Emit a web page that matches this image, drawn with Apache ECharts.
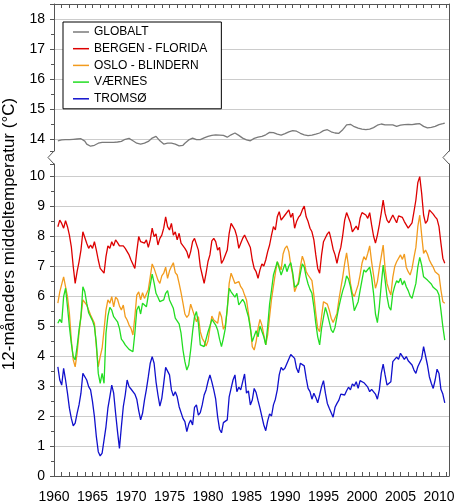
<!DOCTYPE html>
<html><head><meta charset="utf-8">
<script src="https://cdn.jsdelivr.net/npm/echarts@6/dist/echarts.min.js"></script>
<style>html,body{margin:0;padding:0;background:#fff}#c{width:462px;height:504px}</style>
</head><body><div id="c"></div>
<script>
// 12-month running means, quarterly samples
const START_YEAR = 1960.5;
const STEP = 0.25;
const seriesNames = ['GLOBALT', 'BERGEN - FLORIDA', 'OSLO - BLINDERN', 'VÆRNES', 'TROMSØ'];
const seriesColors = ['#7a7a7a', '#dd0000', '#f29b1d', '#22dd22', '#1010cc'];
const yAxisTitle = '12-måneders middeltemperatur (°C)';
const xRange = [1960, 2011.3];
const upperRange = [13.6, 18.5];   // part of the y axis above the break
const lowerRange = [0, 10.4];      // part of the y axis below the break

const globalt = [
13.94, 13.96,
13.97, 13.98, 13.98, 13.98,  13.98, 13.99, 13.99, 14.0,   14.0, 14.01, 14.01, 13.99,  13.93, 13.83, 13.77, 13.76,
13.76, 13.79, 13.83, 13.86,  13.88, 13.89, 13.88, 13.89,  13.89, 13.89, 13.9, 13.89,   13.9, 13.9, 13.91, 13.92,
13.94, 13.99, 14.02, 14.02,  13.99, 13.94, 13.9, 13.86,   13.83, 13.83, 13.83, 13.86,  13.9, 13.92, 13.98, 14.03,
14.07, 14.09, 14.03, 13.94,  13.88, 13.83, 13.81, 13.86,  13.87, 13.86, 13.86, 13.83,  13.81, 13.77, 13.76, 13.79,
13.86, 13.9, 13.97, 14.02,   14.03, 14.0, 13.98, 13.97,   13.98, 14.01, 14.04, 14.07,  14.09, 14.11, 14.12, 14.13,
14.14, 14.14, 14.13, 14.12,  14.12, 14.09, 14.06, 14.09,  14.14, 14.18, 14.2, 14.17,   14.12, 14.08, 14.03, 13.99,
13.97, 13.96, 13.94, 13.99,  14.02, 14.04, 14.06, 14.07,  14.09, 14.11, 14.14, 14.18,  14.22, 14.22, 14.21, 14.19,
14.16, 14.13, 14.13, 14.16,  14.18, 14.21, 14.24, 14.27,  14.28, 14.28, 14.26, 14.22,  14.19, 14.17, 14.14, 14.12,
14.11, 14.11, 14.13, 14.14,  14.16, 14.18, 14.2, 14.24,   14.28, 14.31, 14.31, 14.28,  14.24, 14.22, 14.2, 14.18,
14.19, 14.24, 14.31, 14.39,  14.47, 14.5, 14.49, 14.46,   14.41, 14.38, 14.36, 14.34,  14.33, 14.32, 14.31, 14.32,
14.33, 14.34, 14.38, 14.42,  14.46, 14.48, 14.5, 14.49,   14.47, 14.46, 14.47, 14.48,  14.47, 14.44, 14.42, 14.43,
14.46, 14.47, 14.48, 14.5,   14.49, 14.47, 14.48, 14.49,  14.5, 14.51, 14.51, 14.48,   14.42, 14.38, 14.37, 14.38,
14.39, 14.4, 14.42, 14.46,   14.48, 14.5, 14.51, 14.53
];

const bergen = [
8.31, 8.53,
8.42, 8.26, 8.51, 8.31,  8.03, 7.64, 6.98, 6.42,  6.81, 7.14, 7.53, 8.14,  8.14, 7.76, 7.59, 7.7,
7.59, 7.81, 7.53, 7.2,   6.92, 6.87, 6.76, 7.31,  7.67, 7.59, 7.81, 7.67,  7.87, 7.78, 7.67, 7.7,
7.67, 7.59, 7.48, 7.37,  7.2, 7.14, 6.92, 7.48,   7.98, 7.81, 7.87, 7.76,  7.87, 7.62, 7.87, 8.26,
7.98, 8.07, 7.7, 7.92,   8.03, 8.26, 8.64, 8.31,  8.2, 8.42, 8.03, 8.14,   7.87, 8.09, 7.76, 7.7,
7.59, 7.48, 7.26, 7.48,  7.81, 7.92, 7.87, 7.53,  6.98, 6.7, 6.42, 6.76,   7.15, 7.37, 7.84, 7.92,
7.81, 7.53, 7.62, 7.09,  7.2, 7.37, 7.53, 8.09,   8.42, 8.31, 8.2, 7.98,   7.59, 7.76, 7.92, 8.03,
7.89, 7.76, 7.62, 7.2,   6.92, 6.81, 6.59, 6.87,  7.07, 7.0, 7.2, 7.48,    7.7, 8.03, 8.31, 8.2,
8.64, 8.81, 8.53, 8.48,  8.7, 8.7, 8.87, 8.62,    8.76, 8.26, 8.48, 8.62,  8.7, 8.87, 9.0, 8.64,
8.48, 8.26, 8.14, 7.87,  7.37, 6.92, 6.76, 7.37,  7.81, 7.94, 8.07, 8.14,  7.87, 7.56, 7.37, 7.09,
7.4, 7.62, 8.03, 8.53,   8.78, 8.78, 8.44, 8.14,  8.14, 8.33, 8.2, 8.59,   8.78, 8.81, 8.7, 8.59,
8.78, 8.37, 8.0, 7.76,   8.03, 8.37, 8.76, 9.2,   8.76, 8.53, 8.44, 8.48,  8.7, 8.64, 8.44, 8.67,
8.73, 8.62, 8.48, 8.51,  8.26, 8.31, 8.44, 8.81,  9.2, 9.78, 9.98, 9.42,   8.7, 8.42, 8.51, 8.87,
8.81, 8.73, 8.64, 8.56,  8.31, 7.76, 7.26, 7.09
];

const oslo = [
5.76, 6.14,
6.14, 6.64, 6.7, 5.98,   5.42, 4.53, 3.87, 3.64,  4.09, 4.76, 5.31, 5.87,  5.92, 5.7, 5.53, 5.37,
5.42, 5.09, 4.31, 3.64,  3.98, 4.26, 4.87, 5.53,  5.87, 5.76, 5.98, 5.64,  5.96, 5.89, 5.67, 5.53,
5.7, 5.31, 5.2, 5.03,    4.92, 4.7, 5.31, 6.03,   6.14, 5.87, 6.11, 5.92,  5.98, 6.22, 6.64, 7.07,
6.92, 6.96, 6.53, 6.42,  6.67, 6.76, 6.96, 6.59,  6.84, 6.98, 7.11, 6.78,  6.7, 6.42, 6.11, 5.76,
5.4, 5.29, 5.37, 5.73,   5.7, 5.33, 5.14, 5.31,   4.81, 4.59, 4.48, 4.33,  4.5, 4.92, 5.33, 5.2,
5.22, 5.09, 5.48, 5.31,  4.89, 5.03, 5.53, 6.42,  6.76, 6.59, 6.42, 6.4,   6.48, 6.31, 6.22, 6.03,
5.87, 5.42, 4.98, 4.31,  4.2, 4.48, 4.92, 5.22,   5.03, 4.7, 4.37, 4.7,    5.31, 5.89, 6.33, 6.76,
7.14, 7.0, 6.87, 7.4,    7.59, 7.67, 7.48, 7.03,  6.7, 6.14, 6.09, 6.48,   6.98, 7.33, 7.14, 6.81,
6.7, 6.64, 6.51, 6.03,   5.42, 4.92, 4.81, 5.31,  5.81, 5.87, 5.73, 5.53,  5.26, 5.12, 5.18, 5.42,
5.87, 6.26, 6.64, 7.09,  7.44, 6.98, 6.42, 6.09,  5.98, 6.03, 6.37, 6.7,   7.09, 7.31, 7.2, 7.42,
7.67, 7.14, 6.7, 6.26,   6.48, 6.92, 7.31, 7.7,   6.92, 6.42, 6.2, 6.03,   6.62, 6.98, 7.14, 7.2,
7.37, 7.22, 7.4, 6.96,   6.81, 6.7, 6.92, 7.29,   7.62, 8.31, 8.7, 8.03,   7.42, 7.53, 7.4, 7.2,
7.07, 6.96, 6.81, 6.78,  6.7, 6.2, 5.81, 5.76
];

const vaernes = [
5.09, 5.22,
5.11, 5.98, 6.26, 5.64,  4.98, 4.42, 3.98, 3.87,  4.31, 4.87, 5.31, 6.31,  6.14, 5.76, 5.44, 5.31,
5.18, 4.98, 4.42, 3.42,  3.09, 3.42, 3.09, 4.76,  5.33, 5.62, 5.53, 5.31,  5.29, 5.14, 4.92, 4.56,
4.48, 4.37, 4.31, 4.22,  4.25, 4.14, 4.76, 5.53,  5.67, 5.4, 5.76, 5.81,   5.64, 6.03, 6.37, 6.73,
6.44, 6.09, 5.96, 5.81,  5.87, 5.87, 6.09, 6.18,  5.87, 5.81, 5.59, 5.26,  5.31, 5.07, 4.76, 4.2,
3.81, 3.53, 3.7, 4.2,    4.81, 5.31, 5.48, 5.09,  4.37, 4.42, 4.31, 4.56,  4.8, 5.0, 5.22, 5.26,
5.03, 4.87, 4.56, 4.31,  4.59, 4.92, 5.59, 6.26,  6.14, 6.2, 5.96, 6.09,   5.7, 5.7, 5.89, 5.78,
5.53, 5.31, 4.92, 4.48,  4.42, 4.84, 4.64, 5.0,   5.03, 4.64, 4.37, 4.98,  5.73, 6.2, 6.7, 6.92,
7.14, 6.92, 6.7, 6.76,   7.07, 6.81, 7.0, 7.11,   6.78, 6.29, 6.26, 6.4,   6.76, 7.07, 6.96, 6.64,
6.4, 6.22, 6.09, 5.64,   5.09, 4.64, 4.37, 4.92,  5.29, 5.62, 5.4, 5.14,   4.87, 4.78, 4.96, 5.31,
5.64, 5.92, 6.18, 6.37,  6.67, 6.56, 6.31, 5.96,  5.51, 5.48, 5.81, 6.18,  6.53, 6.87, 6.8, 6.84,
6.96, 6.62, 6.09, 5.4,   5.11, 5.64, 6.37, 7.03,  6.53, 5.98, 5.64, 5.53,  6.09, 6.33, 6.51, 6.44,
6.59, 6.37, 6.51, 6.31,  6.18, 6.0, 5.92, 6.18,   6.42, 6.96, 7.29, 7.03,  6.64, 6.64, 6.53, 6.48,
6.4, 6.29, 6.29, 6.18,   6.03, 5.53, 4.98, 4.53
];

const tromso = [
3.64, 3.2,
3.03, 3.59, 3.2, 2.76,   2.26, 1.92, 1.67, 1.76,  2.09, 2.37, 2.76, 3.42,  3.48, 3.2, 2.98, 2.87,
2.48, 1.98, 1.31, 0.81,  0.67, 0.76, 0.76, 1.64,  2.26, 2.64, 3.03, 2.76,  2.09, 1.48, 0.92, 1.64,
2.31, 2.7, 3.2, 2.98,    2.9, 2.84, 2.73, 2.56,   2.18, 1.87, 2.09, 2.53,  2.89, 3.31, 3.76, 3.98,
3.76, 3.14, 2.7, 2.33,   2.59, 3.09, 3.62, 3.64,  3.37, 2.87, 2.67, 2.81,  2.64, 2.31, 2.37, 1.92,
1.81, 1.48, 1.73, 1.87,  1.7, 2.29, 2.37, 2.03,   2.11, 2.37, 2.7, 2.87,   3.15, 3.37, 3.14, 2.87,
2.56, 1.98, 1.56, 1.44,  1.78, 1.81, 1.87, 2.64,  2.92, 3.2, 3.37, 2.81,   2.96, 2.87, 3.14, 3.4,
2.76, 2.84, 2.37, 2.53,  2.92, 2.78, 2.51, 2.26,  1.98, 1.7, 1.51, 1.84,   2.07, 2.0, 2.37, 2.56,
2.87, 3.37, 3.62, 3.53,  3.6, 3.75, 3.9, 4.05,    4.11, 3.92, 3.59, 3.44,  3.76, 3.78, 3.67, 3.26,
2.92, 2.81, 2.56, 2.76,  2.62, 2.44, 2.7, 2.98,   3.18, 2.76, 2.42, 2.26,  2.11, 1.96, 2.29, 2.42,
2.53, 2.73, 2.78, 2.7,   2.84, 2.96, 2.87, 3.07,  3.0, 3.14, 2.92, 3.18,   3.14, 3.11, 3.1, 2.96,
2.81, 2.89, 2.92, 2.73,  2.56, 2.87, 3.42, 3.73,  3.37, 3.03, 3.0, 3.14,   3.81, 3.78, 3.96, 3.89,
4.09, 4.14, 3.89, 3.98,  3.84, 3.78, 3.7, 3.53,   3.42, 3.64, 3.7, 3.92,   4.31, 4.26, 3.7, 3.31,
3.09, 2.92, 3.2, 3.56,   3.42, 2.89, 2.73, 2.44
];

const allSeries = [globalt, bergen, oslo, vaernes, tromso];
const toPairs = arr => arr.map((v, i) => [START_YEAR + i * STEP, v]);

const FONT = 'Liberation Sans, Arial, sans-serif';
const AX = '#555555';
const intLabel = v => (Math.abs(v - Math.round(v)) < 1e-6 ? String(Math.round(v)) : '');

const chart = echarts.init(document.getElementById('c'), null, {renderer: 'canvas'});

const xBase = (gridIndex, position, showLabel) => ({
  type: 'value', gridIndex, position, min: xRange[0], max: xRange[1], interval: 5,
  axisLine: {show: true, onZero: false, lineStyle: {color: AX, width: 1}},
  axisTick: {show: true, inside: true, length: 4, lineStyle: {color: AX}},
  minorTick: {show: true, splitNumber: 5, length: 4, lineStyle: {color: AX}},
  splitLine: {show: false},
  axisLabel: showLabel ? {fontSize: 14, color: '#000', margin: 14, fontFamily: FONT,
      formatter: v => (Math.abs(v % 5) < 1e-6 ? String(Math.round(v)) : '')} : {show: false}
});
const yMain = (gridIndex, range, extra) => Object.assign({
  type: 'value', gridIndex, position: 'left', min: range[0], max: range[1],
  axisLine: {show: true, onZero: false, lineStyle: {color: AX, width: 1}},
  axisTick: {show: true, length: 4, lineStyle: {color: AX}},
  minorTick: {show: true, splitNumber: 2, length: 3, lineStyle: {color: AX}},
  splitLine: {show: true, showMinLine: false, showMaxLine: false, lineStyle: {color: '#cccccc', width: 1}},
  axisLabel: {fontSize: 14, color: '#000', margin: 9, fontFamily: FONT, formatter: intLabel,
              showMinLabel: true, showMaxLabel: true}
}, extra);
const yRight = (gridIndex, range) => ({
  type: 'value', gridIndex, position: 'right', min: range[0], max: range[1],
  axisLine: {show: true, onZero: false, lineStyle: {color: AX, width: 1}},
  axisTick: {show: false}, axisLabel: {show: false}, splitLine: {show: false}
});

chart.setOption({
  animation: false,
  backgroundColor: '#ffffff',
  textStyle: {fontFamily: FONT},
  grid: [
    {left: 54, right: 13, top: 4, bottom: 353, outerBoundsMode: 'none', containLabel: false},
    {left: 54, right: 13, top: 164, bottom: 28, outerBoundsMode: 'none', containLabel: false}
  ],
  legend: {
    orient: 'vertical', left: 63, top: 22,
    padding: [4, 14, 4, 10],
    backgroundColor: '#ffffff', borderColor: '#000000', borderWidth: 1,
    icon: 'rect', itemWidth: 16, itemHeight: 1.5, itemGap: 4.7,
    textStyle: {fontSize: 12, color: '#000', fontFamily: FONT, lineHeight: 12},
    data: seriesNames
  },
  xAxis: [xBase(0, 'top', false), xBase(1, 'bottom', true)],
  yAxis: [
    yMain(0, upperRange, {minInterval: 1, maxInterval: 1}),
    yRight(0, upperRange),
    yMain(1, lowerRange, {interval: 1}),
    yRight(1, lowerRange)
  ],
  series: allSeries.map((arr, k) => ({
    name: seriesNames[k], type: 'line', data: toPairs(arr),
    xAxisIndex: k === 0 ? 0 : 1, yAxisIndex: k === 0 ? 0 : 2,
    symbol: 'none', showSymbol: false, clip: true,
    lineStyle: {color: seriesColors[k], width: 1.3},
    itemStyle: {color: seriesColors[k]},
    z: 2 + k
  }))
});

// axis-break notches on the frame and the rotated y-axis title
const xl = chart.convertToPixel({xAxisIndex: 1}, xRange[0]);
const xr = chart.convertToPixel({xAxisIndex: 1}, xRange[1]);
const yUp = chart.convertToPixel({yAxisIndex: 0}, upperRange[0]);
const yLo = chart.convertToPixel({yAxisIndex: 2}, lowerRange[1]);
const yMid = (yUp + yLo) / 2;
const yTop = chart.convertToPixel({yAxisIndex: 0}, upperRange[1]);
const yBot = chart.convertToPixel({yAxisIndex: 2}, lowerRange[0]);
const notch = x => ({
  type: 'polyline', silent: true, z: 10,
  shape: {points: [[x, yUp], [x - 6, yMid], [x, yLo]]},
  style: {stroke: AX, lineWidth: 1, fill: null}
});
chart.setOption({
  graphic: [
    notch(xl), notch(xr),
    {type: 'text', silent: true, x: 9, y: (yTop + yBot) / 2 - 6, rotation: Math.PI / 2,
     style: {text: yAxisTitle, fontSize: 17, fill: '#000', fontFamily: FONT,
             align: 'center', verticalAlign: 'middle'}}
  ]
});
</script>
</body></html>
